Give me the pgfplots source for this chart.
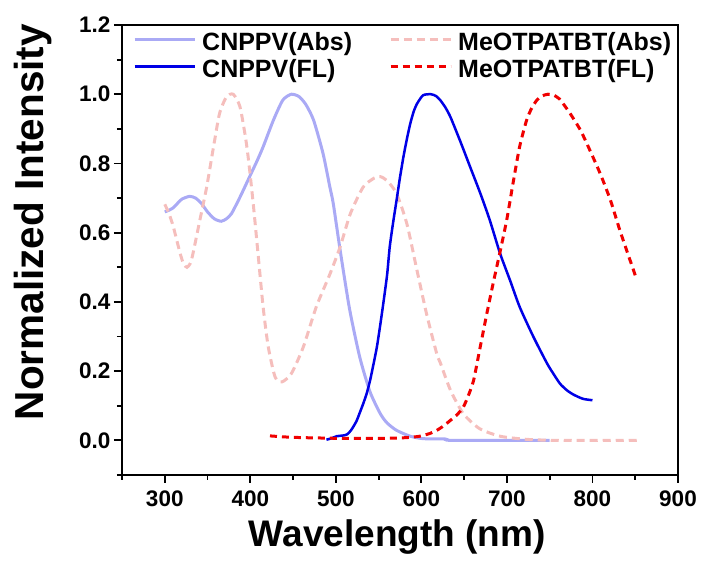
\documentclass[border=0pt]{standalone}
\usepackage{fontspec}
\setmainfont{Liberation Sans}
\usepackage{pgfplots}
\pgfplotsset{compat=1.18}
\definecolor{lav}{RGB}{170,170,245}
\definecolor{fblue}{RGB}{0,0,230}
\definecolor{pinkc}{RGB}{245,190,188}
\definecolor{redc}{RGB}{240,0,0}
\begin{document}
\begin{tikzpicture}
\begin{axis}[
  scale only axis, width=556pt, height=450pt,
  xmin=250, xmax=900, ymin=-0.1, ymax=1.2,
  xtick={300,400,500,600,700,800,900},
  ytick={0,0.2,0.4,0.6,0.8,1.0,1.2},
  minor xtick={250,350,450,550,650,750,850},
  minor ytick={-0.1,0.1,0.3,0.5,0.7,0.9,1.1},
  tick align=outside, xtick pos=left, ytick pos=left,
  major tick length=8pt, minor tick length=5pt,
  tick style={black, line width=1.8pt},
  axis line style={line width=2pt},
  /pgf/number format/assume math mode=true,
  tick label style={font=\fontsize{22.5}{22.5}\selectfont\bfseries},
  yticklabel style={/pgf/number format/.cd, fixed, fixed zerofill, precision=1},
  xticklabel style={/pgf/number format/1000 sep={}, yshift=-4pt},
  xlabel={Wavelength (nm)}, ylabel={Normalized Intensity},
  xlabel style={font=\fontsize{37}{37}\selectfont\bfseries, at={(axis description cs:0.495,-0.159)}, anchor=base},
  ylabel style={font=\fontsize{40.5}{40.5}\selectfont\bfseries, at={(axis description cs:-0.142,0.562)}, anchor=base},
  legend columns=2,
  legend cell align=left,
  legend style={draw=none, fill=none, at={(axis description cs:0.0198,0.985)}, anchor=north west, inner sep=0pt,
    font=\fontsize{25}{25}\selectfont\bfseries, row sep=7.5pt, nodes={inner sep=0pt},
    /tikz/every odd column/.append style={column sep=6pt},
    /tikz/every even column/.append style={column sep=37pt}},
  legend image code/.code={\draw[#1] (0pt,2.5pt) -- (60pt,2.5pt);},
]
\addplot[lav, line width=3pt, smooth, tension=0.4] coordinates {
(300,0.660) (305,0.665) (310,0.672) (315,0.685) (320,0.697) (329,0.705) (336,0.700) (343,0.684) (350,0.660) (358,0.640) (366,0.633) (372,0.640) (378,0.655) (388,0.703) (400,0.766) (408,0.808) (415,0.848) (427,0.925) (438,0.983) (448,1.0) (457,0.993) (465,0.970) (474,0.925) (485,0.829) (493,0.732) (497,0.684) (505,0.550) (516,0.380) (528,0.240) (540,0.140) (552,0.077) (560,0.050) (571,0.029) (587,0.012) (602,0.005) (628,0.004) (636,0.0) (750,0.0)
};
\addlegendentry{CNPPV(Abs)}
\addplot[pinkc, line width=3pt, dash pattern=on 8pt off 5pt, smooth, tension=0.4] coordinates {
(300,0.682) (305,0.655) (310,0.617) (318,0.540) (322,0.510) (326,0.500) (330,0.512) (333,0.540) (341,0.636) (349,0.732) (357,0.848) (364,0.944) (372,0.992) (380,1.0) (388,0.963) (396,0.848) (403,0.694) (409,0.540) (415,0.385) (421,0.270) (429,0.183) (437,0.169) (448,0.193) (462,0.270) (477,0.385) (493,0.480) (505,0.559) (517,0.655) (532,0.732) (545,0.758) (552,0.762) (560,0.750) (571,0.713) (583,0.626) (594,0.501) (606,0.366) (618,0.250) (622,0.225) (634,0.145) (649,0.077) (668,0.034) (692,0.012) (723,0.003) (760,0.0) (852,0.0)
};
\addlegendentry{MeOTPATBT(Abs)}
\addplot[fblue, line width=2.5pt, smooth, tension=0.4] coordinates {
(489,0.002) (495,0.006) (501,0.012) (508,0.014) (513,0.017) (518,0.030) (524,0.055) (528,0.080) (532,0.106) (536,0.135) (540,0.173) (544,0.220) (548,0.270) (552,0.335) (556,0.405) (560,0.480) (563,0.559) (567,0.630) (571,0.694) (575,0.760) (579,0.819) (583,0.870) (587,0.915) (591,0.950) (595,0.973) (602,0.997) (611,1.0) (617,0.995) (622,0.983) (628,0.962) (634,0.934) (645,0.867) (657,0.790) (669,0.713) (680,0.636) (692,0.540) (704,0.460) (715,0.385) (731,0.299) (747,0.222) (755,0.190) (762,0.164) (770,0.145) (778,0.132) (789,0.120) (800,0.116)
};
\addlegendentry{CNPPV(FL)}
\addplot[redc, line width=3pt, dash pattern=on 7pt off 5pt, smooth, tension=0.4] coordinates {
(423,0.013) (440,0.010) (460,0.008) (480,0.007) (500,0.006) (520,0.006) (540,0.006) (560,0.006) (583,0.008) (598,0.012) (610,0.020) (618,0.029) (626,0.042) (634,0.058) (642,0.075) (649,0.096) (655,0.130) (661,0.173) (668,0.260) (676,0.360) (684,0.455) (692,0.545) (700,0.640) (708,0.755) (715,0.850) (723,0.925) (729,0.960) (735,0.983) (741,0.995) (748,1.0) (755,0.997) (762,0.985) (768,0.965) (774,0.944) (786,0.896) (797,0.838) (809,0.771) (821,0.694) (832,0.607) (840,0.549) (850,0.477)
};
\addlegendentry{MeOTPATBT(FL)}
\end{axis}
\path (current axis.south west) ++(-122pt,-86pt) rectangle ++(706pt,561pt);
\end{tikzpicture}
\end{document}
